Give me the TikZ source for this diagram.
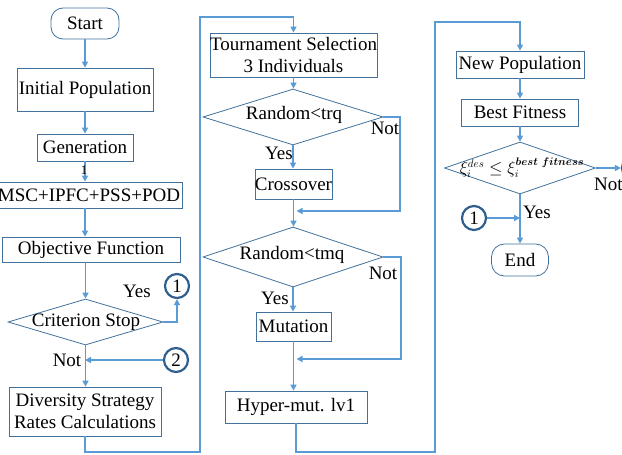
\documentclass[tikz,border=0pt]{standalone}
\usepackage{amsmath,bm}
\usepackage{fontspec}
\setmainfont{Liberation Serif}
\usetikzlibrary{shapes.geometric,arrows.meta}
\definecolor{linec}{HTML}{5B9BD5}
\definecolor{boxc}{HTML}{41719C}
\definecolor{circc}{HTML}{2F5F8F}
\begin{document}
\begin{tikzpicture}[x=1pt,y=-1pt,
  every node/.style={font=\fontsize{19}{22.5}\selectfont, text=black},
  box/.style={draw=boxc, line width=0.8pt, fill=white, inner sep=0pt, align=center},
  term/.style={box, rounded corners=12pt},
  dia/.style={draw=boxc, line width=0.8pt, diamond, inner sep=0pt},
  circ/.style={draw=circc, line width=2.2pt, circle, fill=white, minimum size=24pt, inner sep=0pt},
  conn/.style={draw=linec, line width=1.8pt, -{Triangle[length=6pt,width=6pt]}},
  line/.style={draw=linec, line width=1.8pt},
  lab/.style={inner sep=0pt}]
\useasboundingbox (0,0) rectangle (622,455);
% ---------- left column
\node[term, minimum width=68, minimum height=31] (start) at (85,23.5) {Start};
\node[box, minimum width=136, minimum height=43] (init) at (85,89.5) {Initial Population};
\node[box, minimum width=96, minimum height=27] (gen) at (85,147.5) {Generation};
\node[box, minimum width=186, minimum height=26] (msc) at (89,195) {MSC+IPFC+PSS+POD};
\node[box, minimum width=178, minimum height=25] (obj) at (91,249.5) {Objective Function};
\node[dia, minimum width=155, minimum height=46] (d1) at (85.5,322) {};
\node[lab] (d1t) at (86,322) {Criterion Stop};
\node[box, minimum width=152, minimum height=49] (div) at (85,411.5) {Diversity Strategy\\Rates Calculations};
\node[circ] (o1) at (177,286) {1};
\node[circ] (o2) at (176,360) {2};
\node[lab] (yes1) at (137,291) {Yes};
\node[lab] (not1) at (67,360) {Not};
% ---------- middle column
\node[box, minimum width=165, minimum height=44] (tour) at (293.5,55) {Tournament Selection\\3 Individuals};
\node[dia, minimum width=180, minimum height=56] (d2) at (293,117) {};
\node[lab] (d2t) at (294,114.5) {Random<trq};
\node[box, minimum width=77, minimum height=30] (cross) at (293.5,184) {Crossover};
\node[dia, minimum width=180, minimum height=60] (d3) at (293,257) {};
\node[lab] (d3t) at (292,255) {Random<tmq};
\node[box, minimum width=75, minimum height=29] (mut) at (293.5,326.5) {Mutation};
\node[box, minimum width=142, minimum height=32] (hyp) at (296,407) {Hyper-mut. lv1};
\node[lab] (yes2) at (279,153) {Yes};
\node[lab] (not2) at (385,128) {Not};
\node[lab] (yes3) at (275,298) {Yes};
\node[lab] (not3) at (383,273) {Not};
% ---------- right column
\node[box, minimum width=128, minimum height=27] (newp) at (520,64.5) {New Population};
\node[box, minimum width=117, minimum height=27] (best) at (520,112.5) {Best Fitness};
\node[dia, minimum width=151, minimum height=52] (d4) at (520,168) {};
\node[lab, font=\fontsize{16}{18}\selectfont] (d4t) at (522,168) {$\xi_i^{des}\leq\xi_i^{\bm{best\ fitness}}$};
\node[term, minimum width=57, minimum height=32, rounded corners=13pt] (endn) at (520,260) {End};
\node[circ] (o3) at (474,218) {1};
\node[circ] (o4) at (634,168) {2};
\node[lab] (yes4) at (537,212) {Yes};
\node[lab, anchor=west] (not4) at (594,184) {Not};
% ---------- coordinates
\coordinate (c1) at (200,452);
\coordinate (c2) at (200,17);
\coordinate (c3) at (435,452);
\coordinate (c4) at (435,22);
\coordinate (c5) at (400,211);
\coordinate (j1) at (293.5,211);
\coordinate (c6) at (401,359);
\coordinate (j2) at (293.5,359);
\coordinate (j3) at (85,360);
\coordinate (j4) at (520,218);
% ---------- connectors
\draw[conn] (start.south) -- (start.south |- init.north);
\draw[conn] (init.south) -- (init.south |- gen.north);
\draw[conn] (gen.south) -- (gen.south |- msc.north);
\draw[conn] (msc.south -| gen.south) -- (gen.south |- obj.north);
\draw[conn] (obj.south -| d1.north) -- (d1.north);
\draw[conn] (d1.east) -| (o1.south);
\draw[conn] (d1.south) -- (div.north -| d1.south);
\draw[conn] (o2.west) -- (j3);
\draw[conn] (div.south) |- (c1) -- (c2) -| (tour.north);
\draw[conn] (tour.south) -- (tour.south |- d2.north);
\draw[conn] (d2.south) -- (d2.south |- cross.north);
\draw[conn, shorten >=3pt] (d2.east) -| (c5) -- (j1);
\draw[conn] (cross.south) -- (cross.south |- d3.north);
\draw[conn] (d3.south) -- (d3.south |- mut.north);
\draw[conn, shorten >=3pt] (d3.east) -| (c6) -- (j2);
\draw[conn] (mut.south) -- (mut.south |- hyp.north);
\draw[conn] (hyp.south) |- (c3) -- (c4) -| (newp.north);
\draw[conn] (newp.south) -- (newp.south |- best.north);
\draw[conn] (best.south) -- (best.south |- d4.north);
\draw[conn] (d4.east) -- (o4.west);
\draw[conn] (d4.south) -- (endn.north);
\draw[conn] (o3.east) -- (j4);
% small mark over the connector below Generation
\node[lab, font=\fontsize{13}{14}\selectfont] (one) at (84,170) {1};
\end{tikzpicture}
\end{document}
